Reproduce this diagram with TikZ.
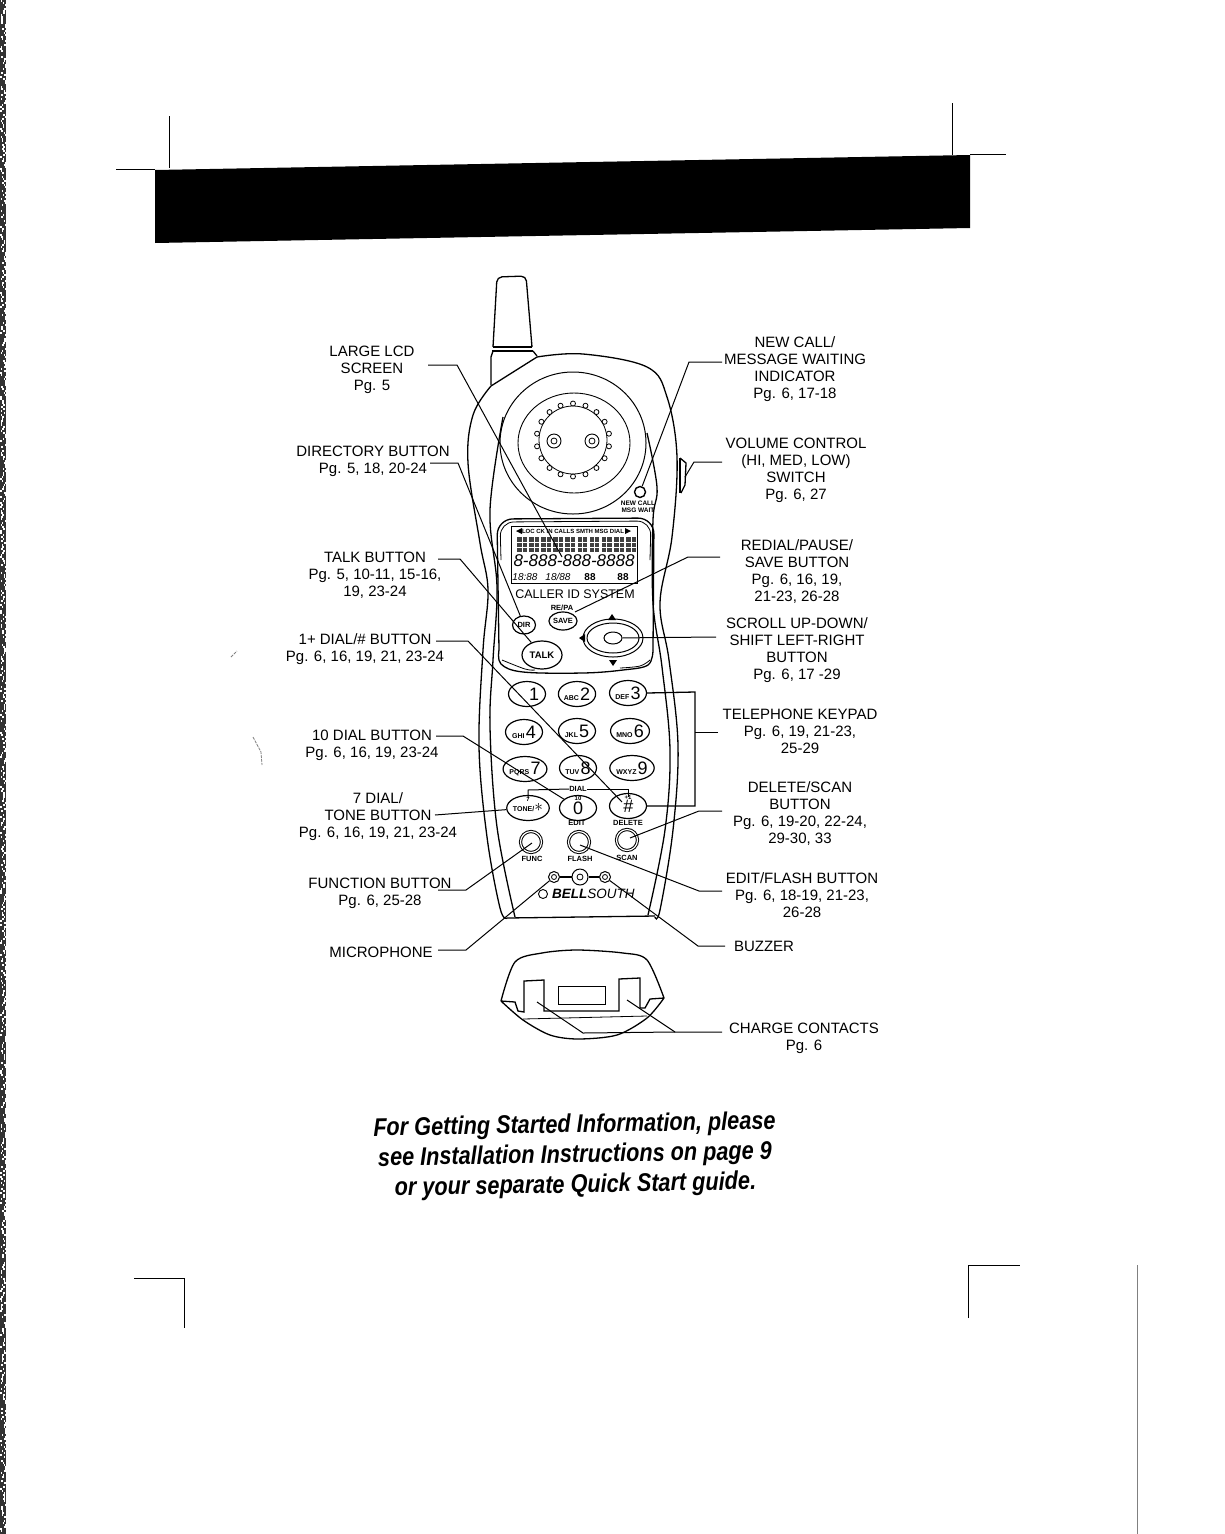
\documentclass[tikz,border=0pt]{standalone}
\usepackage{fontspec}
\setmainfont{Liberation Sans}
\newfontfamily\noticefont[FakeStretch=0.85]{Liberation Sans}
\usetikzlibrary{shapes.geometric}
\tikzstyle{lbl}=[align=center,inner sep=0pt,yshift=-1.5pt,font=\fontsize{15}{17}\selectfont]
\tikzstyle{leader}=[line width=1pt]
\tikzstyle{outline}=[line width=1.3pt]
\tikzstyle{keybtn}=[draw,ellipse,line width=1.2pt,inner sep=0pt,minimum width=37pt,minimum height=25pt]
\tikzstyle{roundbtn}=[draw,circle,double,double distance=1.2pt,line width=1pt,inner sep=0pt,minimum size=21pt]
\tikzstyle{tiny}=[inner sep=0pt,font=\fontsize{7.5}{8}\selectfont\bfseries]
\newcommand{\keytxt}[2]{{\fontsize{7}{8}\selectfont\bfseries #1\,}{\fontsize{18}{18}\selectfont #2}}

\begin{document}
\begin{tikzpicture}[x=1pt,y=-1pt]
	\useasboundingbox (0,0) rectangle (1224,1534);
	% scanner edge
	\fill[black!80] (0,0) rectangle (6,1534);
	\pgfmathsetseed{7}
	\foreach \i in {0,2,...,1532}
		\fill[white] ({rnd*6},\i) rectangle +(1.5,1.5);
	\draw[gray, line width=0.8pt] (1137,1265) -- (1137,1534);
	\draw[gray, line width=0.8pt, dash pattern=on 3pt off 1pt] (231,657) -- (237,651);
	\draw[gray, line width=0.8pt, dash pattern=on 3pt off 1pt] (253,737) -- (261,752) -- (262,765);
	% crop marks and band
	\draw[line width=0.8pt] (169,116) -- (169,168);
	\draw[line width=0.8pt] (116,169) -- (155,169);
	\draw[line width=0.8pt] (952,103) -- (952,155);
	\draw[line width=0.8pt] (970,154) -- (1006,154);
	\draw[line width=0.8pt] (134,1278) -- (184,1278) -- (184,1328);
	\draw[line width=0.8pt] (968,1318) -- (968,1265) -- (1020,1265);
	\fill[black] (155,170) -- (970,155) -- (970,228) -- (155,243) -- cycle;

	% antenna
	\draw[outline,rounded corners=5pt] (493,347) -- (497,277) -- (526,276) -- (532,347);
	\draw[outline] (493,347) -- (532,347);
	\draw[outline] (492,351) -- (533,351);
	\draw[outline] (491,385) -- (491,357) -- (493,351);
	\draw[outline] (533,351) -- (537,356);

	% body
	\draw[outline] plot[smooth,tension=0.6] coordinates {(491,386) (473,415) (468,463) (480,543) (488,590) (483,650) (479,747) (487,837) (500,908) (507,918)};
	\draw[outline] (491,386) -- (537,357);
	\draw[outline] plot[smooth,tension=0.6] coordinates {(537,357) (583,354) (647,367) (667,397) (677,457) (672,537) (660,603) (669,660) (678,745) (673,830) (660,910) (655,917)};
	\draw[outline] (507,918) -- (655,916);
	\draw[outline] plot[smooth,tension=0.6] coordinates {(503,417) (490,510) (497,587) (493,660) (490,727) (497,827) (515,917)};
	\draw[outline] plot[smooth,tension=0.6] coordinates {(647,433) (657,487) (653,520) (653,603) (662,667) (670,750) (665,830) (648,915)};
	% volume switch
	\draw[outline] (680,458) -- (686,463) -- (685,485) -- (681,493);
	\draw[outline] (680,458) -- (680,493);

	% earpiece
	\node[draw,ellipse,line width=1pt,inner sep=0pt,minimum width=146pt,minimum height=142pt] (earout) at (573,443) {};
	\node[draw,ellipse,line width=0.9pt,inner sep=0pt,minimum width=112pt,minimum height=100pt] (earin) at (574,443) {};
	\node[draw,circle,line width=0.8pt,inner sep=0pt,minimum size=68pt] (earring) at (573,440) {};
	\foreach \ang in {10,30,...,350}
		\draw[line width=0.8pt,fill=white] (573,440) ++(\ang:36.5) circle (2.5);
	\foreach \sx/\sname in {554/earl,592/earr} {
		\node[draw,circle,line width=0.9pt,inner sep=0pt,minimum size=14pt] (\sname) at (\sx,441) {};
		\draw[line width=0.8pt] (\sx,441) circle (3);
	}

	% new call led
	\node[draw,circle,line width=1.4pt,inner sep=0pt,minimum size=11pt] (led) at (640,492) {};
	\node[tiny,font=\fontsize{6.5}{7.5}\selectfont\bfseries,align=center] (ledtxt) at (638,507) {NEW CALL\\MSG WAIT};

	% display
	\draw[outline,rounded corners=16pt] (499,650) -- (497,519) -- (654,518) -- (653,650);
	\draw[line width=0.8pt,rounded corners=14pt] (501,560) -- (500,522) -- (651,521) -- (650,560);
	\draw[outline] plot[smooth,tension=0.6] coordinates {(499,650) (501,664) (523,672) (583,673) (623,670) (648,665) (653,650)};
	\draw[line width=0.8pt] plot[smooth,tension=0.6] coordinates {(502,660) (525,669) (535,670)};
	\draw[line width=0.8pt] plot[smooth,tension=0.6] coordinates {(620,668) (640,666) (650,660)};
	\draw[line width=1pt] (511,526) rectangle (637,583);
	\node[inner sep=0pt,font=\fontsize{6}{7}\selectfont\bfseries] (lcdtop) at (573,531) {LOC CK IN CALLS SMTH MSG DIAL};
	\fill[black] (516,531) -- (522,528) -- (522,534) -- cycle;
	\fill[black] (631,531) -- (625,528) -- (625,534) -- cycle;
	\foreach \i in {0,...,9} {
		\fill[black!75] (517+\i*12.1,537) rectangle +(9.8,15);
		\draw[white,line width=0.5pt] (517+\i*12.1,542) -- +(9.8,0) (517+\i*12.1,547) -- +(9.8,0) (522+\i*12.1,537) -- +(0,15);
	}
	\node[inner sep=0pt,font=\fontsize{17}{17}\selectfont\itshape] (lcdnum) at (574,561) {8-888-888-8888};
	\node[inner sep=0pt,font=\fontsize{10}{10}\selectfont\itshape] (lcdclock) at (525,577) {18:88};
	\node[inner sep=0pt,font=\fontsize{10}{10}\selectfont\itshape] (lcddate) at (558,577) {18/88};
	\node[inner sep=0pt,font=\fontsize{10}{10}\selectfont\bfseries] (lcdcnt) at (590,577) {88};
	\node[inner sep=0pt,font=\fontsize{10}{10}\selectfont\bfseries] (lcdvol) at (623,577) {88};
	\node[inner sep=0pt,font=\fontsize{12.5}{13}\selectfont] (capid) at (575,594) {CALLER ID SYSTEM};

	% upper buttons
	\node[keybtn,minimum width=23pt,minimum height=18pt] (dir) at (524,625) {\fontsize{7.5}{8}\selectfont\bfseries DIR};
	\node[tiny] (repa) at (562,608) {RE/PA};
	\node[keybtn,minimum width=26pt,minimum height=18pt] (save) at (563,621) {\fontsize{7.5}{8}\selectfont\bfseries SAVE};
	\node[keybtn,minimum width=40pt,minimum height=28pt] (talk) at (542,655) {\fontsize{9.5}{10}\selectfont\bfseries TALK};
	% scroll key
	\node[draw,ellipse,line width=1pt,inner sep=0pt,minimum width=60pt,minimum height=38pt] (navout) at (613,638) {};
	\node[draw,ellipse,line width=1pt,inner sep=0pt,minimum width=52pt,minimum height=30pt] (navin) at (613,638) {};
	\node[draw,ellipse,line width=1pt,inner sep=0pt,minimum width=18pt,minimum height=12pt] (navc) at (613,638) {};
	\fill[black] (612,614) -- (608,620) -- (616,620) -- cycle;
	\fill[black] (613,666) -- (609,660) -- (617,660) -- cycle;
	\fill[black] (579,638) -- (585,634) -- (585,642) -- cycle;

	% keypad
	\node[keybtn] (key1) at (527,694) {\hspace*{14pt}\fontsize{18}{18}\selectfont 1};
	\node[keybtn] (key2) at (577,694) {\keytxt{ABC}{2}};
	\node[keybtn] (key3) at (628,693) {\keytxt{DEF}{3}};
	\node[keybtn] (key4) at (524,732) {\keytxt{GHI}{4}};
	\node[keybtn] (key5) at (577,731) {\keytxt{JKL}{5}};
	\node[keybtn] (key6) at (630,731) {\keytxt{MNO}{6}};
	\node[keybtn] (key7) at (525,769) {\keytxt{PQRS}{7}};
	\node[keybtn] (key8) at (578,768) {\keytxt{TUV}{8}};
	\node[keybtn] (key9) at (632,768) {\keytxt{WXYZ}{9}};
	\node[keybtn] (keystar) at (528,808) {\keytxt{TONE/}{\kern-1pt$\ast$}};
	\node[keybtn] (key0) at (578,808) {\raisebox{-2pt}{\fontsize{18}{18}\selectfont 0}};
	\node[keybtn] (keyhash) at (628,806) {\raisebox{-2pt}{\fontsize{18}{18}\selectfont\itshape \#}};
	% dial bracket
	\node[tiny] (dial) at (578,789) {DIAL};
	\coordinate (dla) at (528,798);
	\coordinate (dlb) at (528,790);
	\coordinate (dlc) at (628,789);
	\coordinate (dld) at (628,797);
	\draw[leader] (dla) -- (dlb) -- (dial.west);
	\draw[leader] (dial.east) -- (dlc) -- (dld);
	\node[tiny,font=\fontsize{6}{6}\selectfont\bfseries] (n7) at (528,799) {7};
	\node[tiny,font=\fontsize{6}{6}\selectfont\bfseries] (n10) at (578,798) {10};
	\node[tiny,font=\fontsize{6}{6}\selectfont\bfseries] (n1) at (628,797) {+1};

	% lower buttons
	\node[tiny] (edittxt) at (577,823) {EDIT};
	\node[tiny] (deltxt) at (628,823) {DELETE};
	\node[roundbtn] (func) at (531,842) {};
	\node[roundbtn] (flash) at (579,842) {};
	\node[roundbtn] (scan) at (627,840) {};
	\node[tiny] (functxt) at (532,859) {FUNC};
	\node[tiny] (flashtxt) at (580,859) {FLASH};
	\node[tiny] (scantxt) at (627,858) {SCAN};

	% microphone, buzzer and logo
	\node[draw,circle,line width=1pt,inner sep=0pt,minimum size=11pt] (mic) at (554,877) {};
	\node[draw,circle,line width=1pt,inner sep=0pt,minimum size=16pt] (midhole) at (580,877) {};
	\node[draw,circle,line width=1pt,inner sep=0pt,minimum size=11pt] (buzz) at (605,877) {};
	\draw[line width=1.6pt] (mic) -- (midhole);
	\draw[line width=1.6pt] (midhole) -- (buzz);
	\draw[line width=0.8pt] (580,877) circle (3);
	\draw[line width=0.8pt] (554,877) circle (2.5);
	\draw[line width=0.8pt] (605,877) circle (2.5);
	\node[draw,circle,line width=0.9pt,inner sep=0pt,minimum size=9pt] (logo) at (543,894) {};
	\node[inner sep=0pt,anchor=west,font=\fontsize{13.5}{14}\selectfont\itshape] (brand) at (552,894) {\textbf{BELL}SOUTH};

	% cradle
	\draw[outline] plot[smooth,tension=0.5] coordinates {(501,1001) (515,962) (542,953) (577,950) (623,953) (647,960) (664,998)};
	\draw[outline] plot[smooth,tension=0.5] coordinates {(501,1001) (523,1020) (550,1035) (578,1039) (617,1035) (647,1018) (664,998)};
	\draw[outline] (501,1001) -- (515,1002) -- (518,1011) -- (524,1012) -- (524,981) -- (544,980) -- (544,1011) -- (619,1011) -- (619,979) -- (640,978) -- (640,1008) -- (645,1008) -- (650,999) -- (664,998);
	\draw[line width=1pt] (558,986) rectangle (605,1004);
	\draw[line width=0.8pt] (523,1019) -- (647,1016);

	% side labels
	\node[lbl] (lcdlbl) at (372,368) {LARGE LCD\\SCREEN\\Pg. 5};
	\node[lbl] (dirlbl) at (373,460) {DIRECTORY BUTTON\\Pg. 5, 18, 20-24};
	\node[lbl] (talklbl) at (375,574) {TALK BUTTON\\Pg. 5, 10-11, 15-16,\\19, 23-24};
	\node[lbl] (onelbl) at (365,648) {1+ DIAL/\# BUTTON\\Pg. 6, 16, 19, 21, 23-24};
	\node[lbl] (tenlbl) at (372,744) {10 DIAL BUTTON\\Pg. 6, 16, 19, 23-24};
	\node[lbl] (sevenlbl) at (378,815) {7 DIAL/\\TONE BUTTON\\Pg. 6, 16, 19, 21, 23-24};
	\node[lbl] (funclbl) at (380,892) {FUNCTION BUTTON\\Pg. 6, 25-28};
	\node[lbl] (miclbl) at (381,951) {MICROPHONE};
	\node[lbl] (newlbl) at (795,368) {NEW CALL/\\MESSAGE WAITING\\INDICATOR\\Pg. 6, 17-18};
	\node[lbl] (vollbl) at (796,469) {VOLUME CONTROL\\(HI, MED, LOW)\\SWITCH\\Pg. 6, 27};
	\node[lbl] (redlbl) at (797,570) {REDIAL/PAUSE/\\SAVE BUTTON\\Pg. 6, 16, 19,\\21-23, 26-28};
	\node[lbl] (scrlbl) at (797,649) {SCROLL UP-DOWN/\\SHIFT LEFT-RIGHT\\BUTTON\\Pg. 6, 17 -29};
	\node[lbl] (tellbl) at (800,730) {TELEPHONE KEYPAD\\Pg. 6, 19, 21-23,\\25-29};
	\node[lbl] (dellbl) at (800,812) {DELETE/SCAN\\BUTTON\\Pg. 6, 19-20, 22-24,\\29-30, 33};
	\node[lbl] (edilbl) at (802,894) {EDIT/FLASH BUTTON\\Pg. 6, 18-19, 21-23,\\26-28};
	\node[lbl] (buzlbl) at (764,945) {BUZZER};
	\node[lbl] (chglbl) at (804,1037) {CHARGE CONTACTS\\Pg. 6};

	% leader corners and ends
	\coordinate (lcda) at (428,365);
	\coordinate (lcdb) at (457,365);
	\coordinate (lcdc) at (562,557);
	\coordinate (dira) at (430,463);
	\coordinate (dirb) at (458,463);
	\coordinate (talka) at (438,559);
	\coordinate (talkb) at (460,559);
	\coordinate (onea) at (436,641);
	\coordinate (oneb) at (468,641);
	\coordinate (onec) at (622,802);
	\coordinate (tena) at (436,736);
	\coordinate (tenb) at (463,736);
	\coordinate (sevena) at (435,815);
	\coordinate (funca) at (438,890);
	\coordinate (funcb) at (466,890);
	\coordinate (mica) at (438,950);
	\coordinate (micb) at (466,950);
	\coordinate (newa) at (722,362);
	\coordinate (newb) at (689,362);
	\coordinate (vola) at (722,462);
	\coordinate (volb) at (694,462);
	\coordinate (volc) at (685,477);
	\coordinate (reda) at (720,557);
	\coordinate (redb) at (688,557);
	\coordinate (redc) at (575,612);
	\coordinate (scra) at (716,637);
	\coordinate (tela) at (718,732);
	\coordinate (telb) at (695,732);
	\coordinate (telc) at (695,692);
	\coordinate (teld) at (695,806);
	\coordinate (dela) at (722,811);
	\coordinate (delb) at (699,811);
	\coordinate (dele) at (630,838);
	\coordinate (edia) at (722,891);
	\coordinate (edib) at (699,891);
	\coordinate (edie) at (580,845);
	\coordinate (funce) at (532,843);
	\coordinate (buza) at (725,946);
	\coordinate (buzb) at (698,946);
	\coordinate (chga) at (722,1032);
	\coordinate (chgb) at (675,1032);
	\coordinate (chgc) at (627,1000);
	\coordinate (chgd) at (583,1033);
	\coordinate (chge) at (537,1002);

	% leaders
	\draw[leader] (lcda) -- (lcdb) -- (lcdc);
	\draw[leader] (dira) -- (dirb) -- (dir);
	\draw[leader] (talka) -- (talkb) -- (talk);
	\draw[leader] (onea) -- (oneb) -- (onec);
	\draw[leader] (tena) -- (tenb) -- (key0);
	\draw[leader] (sevena) -- (keystar);
	\draw[leader] (funca) -- (funcb) -- (funce);
	\draw[leader] (mica) -- (micb) -- (mic);
	\draw[leader] (newa) -- (newb) -- (led);
	\draw[leader] (vola) -- (volb) -- (volc);
	\draw[leader] (reda) -- (redb) -- (redc);
	\draw[leader] (scra) -- (navc);
	\draw[leader] (tela) -- (telb);
	\draw[line width=1.3pt] (key3.east) -- (telc) -- (teld) -- (keyhash.east);
	\draw[leader] (dela) -- (delb) -- (dele);
	\draw[leader] (edia) -- (edib) -- (edie);
	\draw[leader] (buza) -- (buzb) -- (buzz);
	\draw[leader] (chga) -- (chgb) -- (chgc);
	\draw[leader] (chgb) -- (chgd) -- (chge);

	% notice
	\node[inner sep=0pt,align=center,rotate=1,font=\fontsize{25.5}{30}\selectfont\noticefont\bfseries\itshape] (notice) at (575,1156) {For Getting Started Information, please\\see Installation Instructions on page 9\\or your separate Quick Start guide.};
\end{tikzpicture}
\end{document}
